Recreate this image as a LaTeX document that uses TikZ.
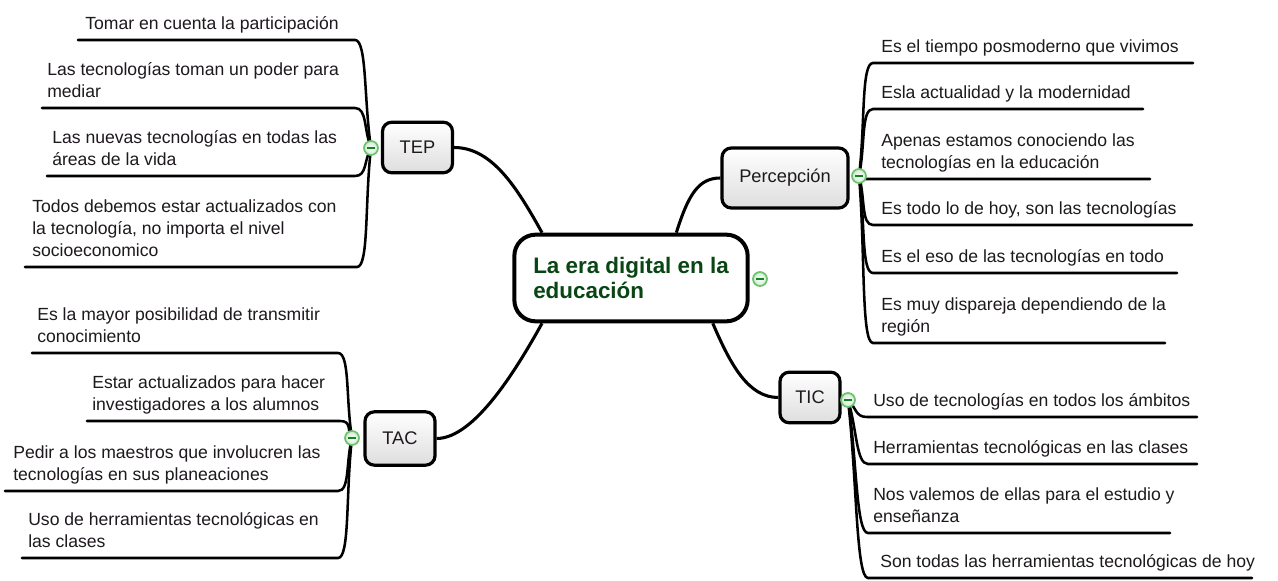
\documentclass[tikz,border=0pt]{standalone}
\usepackage{fontspec}
\setmainfont{Liberation Sans}
\usetikzlibrary{calc}
\definecolor{leaftext}{RGB}{30,25,30}
\definecolor{titlegreen}{RGB}{10,70,20}
\definecolor{ringgreen}{RGB}{110,195,110}
\definecolor{minusgreen}{RGB}{20,130,40}

\tikzset{
  topicbox/.style={draw=black, line width=2.4pt, rounded corners=7pt,
    top color=white, bottom color=black!13, inner sep=0pt,
    font=\fontsize{13.7}{16}\selectfont, text=leaftext},
  rootbox/.style={draw=black, line width=3pt, rounded corners=16pt, fill=white,
    align=left, minimum width=175pt, minimum height=65pt, inner sep=0pt,
    font=\fontsize{16.8}{18.5}\selectfont\bfseries, text=titlegreen},
  % the base anchor of a multi-line leaf sits on its last line
  leaftxt/.style={anchor=base west, align=left, inner sep=0pt,
    font=\fontsize{13.2}{16.5}\selectfont, text=leaftext},
  leafline/.style={line width=1.9pt, line cap=round},
  mainline/.style={line width=2.3pt},
  toggle/.style={circle, draw=ringgreen, line width=1.3pt, inner color=white,
    outer color=ringgreen!35, minimum size=10.5pt, inner sep=0pt,
    path picture={\draw[minusgreen, line width=1.6pt]
      ([xshift=-3pt]path picture bounding box.center) --
      ([xshift=3pt]path picture bounding box.center);}},
}

\begin{document}
\begin{tikzpicture}[x=0.75pt, y=-0.75pt]
\useasboundingbox (0,0) rectangle (1278,581);
\fill[white] (0,0) rectangle (1278,581);

% central topic and main branches
\node[rootbox] (root) at (631,278) {La era digital en la\\educación};
\node[topicbox, minimum width=52.5pt, minimum height=38pt] (tep) at (417.5,147.5) {TEP};
\node[topicbox, minimum width=94.5pt, minimum height=45pt] (per) at (785,178) {Percepción};
\node[topicbox, minimum width=52.5pt, minimum height=40pt] (tac) at (400,438.5) {TAC};
\node[topicbox, minimum width=45pt, minimum height=38pt] (tic) at (810,397.5) {TIC};

\draw[mainline] (root.153) .. controls +(-25,-45) and +(38,0) .. (tep.east);
\draw[mainline] (root.45) .. controls +(12,-38) and +(-22,0) .. (per.west);
\draw[mainline] (root.-153) .. controls +(-25,45) and +(38,0) .. (tac.east);
\draw[mainline] (root.-29) .. controls +(18,42) and +(-30,0) .. (tic.west);

% collapse handles
\coordinate (tepc) at (371,148);
\coordinate (perc) at (859,176);
\coordinate (tacc) at (352,438);
\coordinate (ticc) at (848,400);
\coordinate (rootc) at (760,279);

% TEP leaves
\node[leaftxt] (tep1) at (85,29.5) {Tomar en cuenta la participación};
\node[leaftxt] (tep2) at (47,97.5) {Las tecnologías toman un poder para\\mediar};
\node[leaftxt] (tep3) at (52,165.5) {Las nuevas tecnologías en todas las\\áreas de la vida};
\node[leaftxt] (tep4) at (32,256.5) {Todos debemos estar actualizados con\\la tecnología, no importa el nivel\\socioeconomico};
\coordinate (tep1a) at (78,40);   \coordinate (tep1b) at (355,40);
\coordinate (tep2a) at (42,108);  \coordinate (tep2b) at (355,108);
\coordinate (tep3a) at (47,176);  \coordinate (tep3b) at (355,176);
\coordinate (tep4a) at (25,267);  \coordinate (tep4b) at (357,267);
\foreach \k in {1,...,4}{
  \draw[leafline] (tep\k a) -- (tep\k b) .. controls ($(tep\k b)+(12,0)$) and ($(tepc)!0.45!(tep\k b)$) .. (tepc);
}

% TAC leaves
\node[leaftxt] (tac1) at (37,342.5) {Es la mayor posibilidad de transmitir\\conocimiento};
\node[leaftxt] (tac2) at (92,410.5) {Estar actualizados para hacer\\investigadores a los alumnos};
\node[leaftxt] (tac3) at (13,480.5) {Pedir a los maestros que involucren las\\tecnologías en sus planeaciones};
\node[leaftxt] (tac4) at (28,547.5) {Uso de herramientas tecnológicas en\\las clases};
\coordinate (tac1a) at (32,353);  \coordinate (tac1b) at (338,353);
\coordinate (tac2a) at (87,421);  \coordinate (tac2b) at (340,421);
\coordinate (tac3a) at (5,491);   \coordinate (tac3b) at (338,491);
\coordinate (tac4a) at (22,558);  \coordinate (tac4b) at (338,558);
\foreach \k in {1,...,4}{
  \draw[leafline] (tac\k a) -- (tac\k b) .. controls ($(tac\k b)+(12,0)$) and ($(tacc)!0.45!(tac\k b)$) .. (tacc);
}

% Percepcion leaves
\node[leaftxt] (per1) at (881,52.5) {Es el tiempo posmoderno que vivimos};
\node[leaftxt] (per2) at (881,98.5) {Esla actualidad y la modernidad};
\node[leaftxt] (per3) at (881,168.5) {Apenas estamos conociendo las\\tecnologías en la educación};
\node[leaftxt] (per4) at (881,214.5) {Es todo lo de hoy, son las tecnologías};
\node[leaftxt] (per5) at (881,262.5) {Es el eso de las tecnologías en todo};
\node[leaftxt] (per6) at (881,332.5) {Es muy dispareja dependiendo de la\\región};
\coordinate (per1a) at (873,63);  \coordinate (per1b) at (1193,63);
\coordinate (per2a) at (873,109); \coordinate (per2b) at (1143,109);
\coordinate (per3a) at (866,179); \coordinate (per3b) at (1150,179);
\coordinate (per4a) at (873,225); \coordinate (per4b) at (1192,225);
\coordinate (per5a) at (873,273); \coordinate (per5b) at (1177,273);
\coordinate (per6a) at (873,343); \coordinate (per6b) at (1165,343);
\foreach \k in {1,...,6}{
  \draw[leafline] (perc) .. controls ($(perc)!0.45!(per\k a)$) and ($(per\k a)+(-12,0)$) .. (per\k a) -- (per\k b);
}

% TIC leaves
\node[leaftxt] (tic1) at (873,406.5) {Uso de tecnologías en todos los ámbitos};
\node[leaftxt] (tic2) at (873,453.5) {Herramientas tecnológicas en las clases};
\node[leaftxt] (tic3) at (873,522.5) {Nos valemos de ellas para el estudio y\\enseñanza};
\node[leaftxt] (tic4) at (880,567.5) {Son todas las herramientas tecnológicas de hoy};
\coordinate (tic1a) at (867,417); \coordinate (tic1b) at (1197,417);
\coordinate (tic2a) at (868,464); \coordinate (tic2b) at (1197,464);
\coordinate (tic3a) at (868,533); \coordinate (tic3b) at (1170,533);
\coordinate (tic4a) at (868,578); \coordinate (tic4b) at (1252,578);
\foreach \k in {1,...,4}{
  \draw[leafline] (ticc) .. controls ($(ticc)!0.45!(tic\k a)$) and ($(tic\k a)+(-12,0)$) .. (tic\k a) -- (tic\k b);
}

% toggles drawn on top of the line ends
\node[toggle] (tept) at (tepc) {};
\node[toggle] (pert) at (perc) {};
\node[toggle] (tact) at (tacc) {};
\node[toggle] (tict) at (ticc) {};
\node[toggle] (roott) at (rootc) {};
\end{tikzpicture}
\end{document}
